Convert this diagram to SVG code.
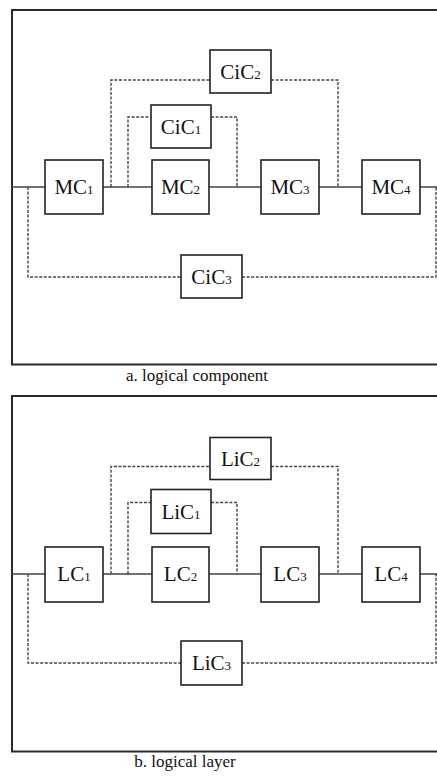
<svg xmlns="http://www.w3.org/2000/svg" width="437" height="776" viewBox="0 0 437 776">
<style>
.frame{fill:none;stroke:#2a2a2a;stroke-width:2}
.box{fill:#fff;stroke:#222;stroke-width:1.6}
.solid{fill:none;stroke:#444;stroke-width:1.6}
.dash{fill:none;stroke:#444;stroke-width:1.4;stroke-dasharray:3 1.6}
.lbl{font-family:"Liberation Serif","Times New Roman",serif;font-size:21px;fill:#111;text-anchor:middle}
.sub{font-size:13px}
.cap{font-family:"Liberation Serif","Times New Roman",serif;font-size:17px;fill:#111;text-anchor:middle}
</style>
<rect width="437" height="776" fill="#fff"/>

<!-- Panel a -->
<path class="frame" d="M437,10 H12 V364.5 H437"/>
<g id="connectors-a">
<path class="solid" d="M12,187 H45 M103,187 H152 M209,187 H261 M319,187 H362 M420,187 H437"/>
<path class="dash" d="M111,187 V80 H210 M271,80 H338 V187"/>
<path class="dash" d="M128,187 V117 H151 M211,117 H237 V187"/>
<path class="dash" d="M28,187 V277 H181 M242,277 H436 V187"/>
</g>
<g id="MC1"><rect class="box" x="45" y="160" width="58" height="54"/><text class="lbl" x="74" y="194">MC<tspan class="sub">1</tspan></text></g>
<g id="MC2"><rect class="box" x="152" y="160" width="57" height="54"/><text class="lbl" x="180.5" y="194">MC<tspan class="sub">2</tspan></text></g>
<g id="MC3"><rect class="box" x="261" y="160" width="58" height="54"/><text class="lbl" x="290" y="194">MC<tspan class="sub">3</tspan></text></g>
<g id="MC4"><rect class="box" x="362" y="160" width="58" height="54"/><text class="lbl" x="391" y="194">MC<tspan class="sub">4</tspan></text></g>
<g id="CiC1"><rect class="box" x="151" y="105" width="60" height="43"/><text class="lbl" x="181" y="133.5">CiC<tspan class="sub">1</tspan></text></g>
<g id="CiC2"><rect class="box" x="210" y="50" width="61" height="43"/><text class="lbl" x="240.5" y="78.5">CiC<tspan class="sub">2</tspan></text></g>
<g id="CiC3"><rect class="box" x="181" y="255" width="61" height="43"/><text class="lbl" x="211.5" y="283.5">CiC<tspan class="sub">3</tspan></text></g>
<text class="cap" x="197" y="381">a. logical component</text>

<!-- Panel b -->
<path class="frame" d="M437,396 H12 V751.5 H437"/>
<g id="connectors-b">
<path class="solid" d="M12,574 H45 M103,574 H152 M209,574 H261 M319,574 H362 M420,574 H437"/>
<path class="dash" d="M111,574 V466.5 H210 M271,466.5 H338 V574"/>
<path class="dash" d="M128,574 V502.5 H151 M211,502.5 H237 V574"/>
<path class="dash" d="M28,574 V663 H181 M242,663 H436 V574"/>
</g>
<g id="LC1"><rect class="box" x="45" y="547" width="58" height="55"/><text class="lbl" x="74" y="581">LC<tspan class="sub">1</tspan></text></g>
<g id="LC2"><rect class="box" x="152" y="547" width="57" height="55"/><text class="lbl" x="180.5" y="581">LC<tspan class="sub">2</tspan></text></g>
<g id="LC3"><rect class="box" x="261" y="547" width="58" height="55"/><text class="lbl" x="290" y="581">LC<tspan class="sub">3</tspan></text></g>
<g id="LC4"><rect class="box" x="362" y="547" width="58" height="55"/><text class="lbl" x="391" y="581">LC<tspan class="sub">4</tspan></text></g>
<g id="LiC1"><rect class="box" x="151" y="489.5" width="60" height="44"/><text class="lbl" x="181" y="518.5">LiC<tspan class="sub">1</tspan></text></g>
<g id="LiC2"><rect class="box" x="210" y="437.5" width="61" height="42"/><text class="lbl" x="240.5" y="465.5">LiC<tspan class="sub">2</tspan></text></g>
<g id="LiC3"><rect class="box" x="181" y="641" width="61" height="44"/><text class="lbl" x="211.5" y="670">LiC<tspan class="sub">3</tspan></text></g>
<text class="cap" x="185" y="767">b. logical layer</text>
</svg>
